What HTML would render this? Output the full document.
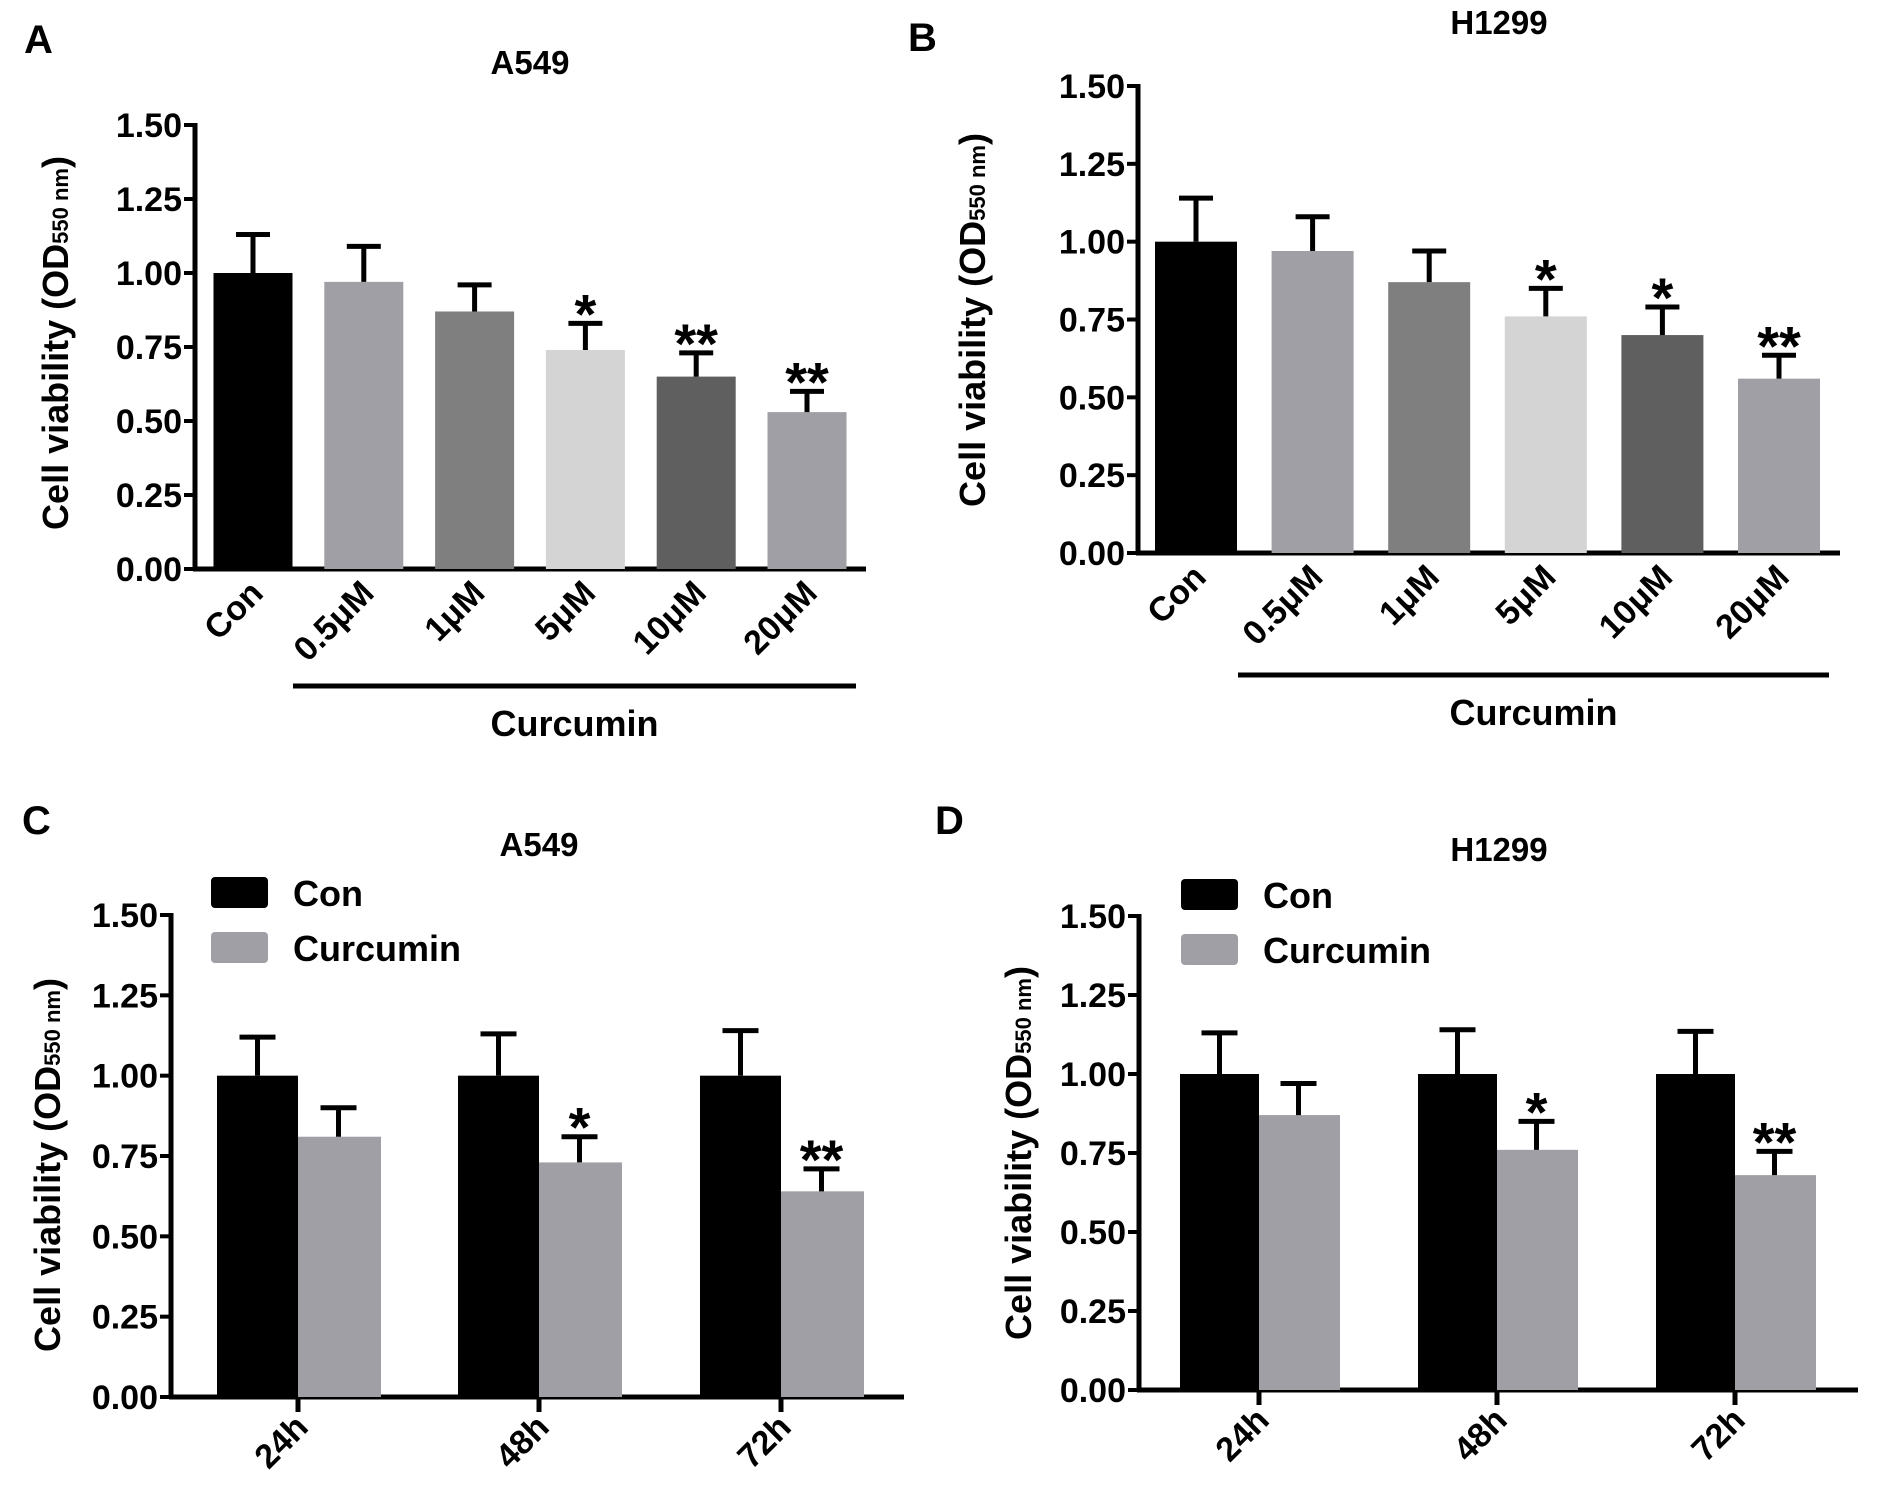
<!DOCTYPE html>
<html><head><meta charset="utf-8"><style>
html,body{margin:0;padding:0;background:#fff;}
svg{display:block;font-family:"Liberation Sans",Arial,sans-serif;font-weight:bold;}
</style></head><body>
<svg id="fig" width="1878" height="1496" viewBox="0 0 1878 1496" xmlns="http://www.w3.org/2000/svg">
<rect x="0" y="0" width="1878" height="1496" fill="#ffffff"/>
</svg>
<script>
// ---- data ----
const doseCategories = ["Con","0.5μM","1μM","5μM","10μM","20μM"];
const doseColors = ["#000000","#9f9fa5","#7f7f7f","#d4d4d4","#5f5f5f","#9f9fa5"];
const aValues = [1.00,0.97,0.87,0.74,0.65,0.53];
const aErrors = [1.13,1.09,0.96,0.83,0.73,0.60];
const aStars = ["","","","*","**","**"];
const bValues = [1.00,0.97,0.87,0.76,0.70,0.56];
const bErrors = [1.14,1.08,0.97,0.85,0.79,0.635];
const bStars = ["","","","*","*","**"];
const timeCategories = ["24h","48h","72h"];
const cConValues = [1.00,1.00,1.00];
const cConErrors = [1.12,1.13,1.14];
const cCurValues = [0.81,0.73,0.64];
const cCurErrors = [0.90,0.81,0.71];
const cStars = ["","*","**"];
const dConValues = [1.00,1.00,1.00];
const dConErrors = [1.13,1.14,1.135];
const dCurValues = [0.87,0.76,0.68];
const dCurErrors = [0.97,0.85,0.755];
const dStars = ["","*","**"];
const yTicks = [0,0.25,0.5,0.75,1.0,1.25,1.5];
const yTickLabels = ["0.00","0.25","0.50","0.75","1.00","1.25","1.50"];

const NS="http://www.w3.org/2000/svg";
const svg=document.getElementById('fig');
function mk(tag,attrs,parent,text){
  const e=document.createElementNS(NS,tag);
  for(const k in attrs) e.setAttribute(k,attrs[k]);
  if(text!==undefined) e.textContent=text;
  (parent||svg).appendChild(e);
  return e;
}

function axes(g,cfg){
  const y=v=>cfg.y0-(v/1.5)*(cfg.y0-cfg.y15);
  const yl=mk('line',{x1:cfg.ax,y1:cfg.y15-2,x2:cfg.ax,y2:cfg.y0+2,stroke:'#000','stroke-width':5},g);
  
  
  const xl=mk('line',{x1:cfg.ax-2,y1:cfg.y0,x2:cfg.xend,y2:cfg.y0,stroke:'#000','stroke-width':5},g);
  
  
  yTicks.forEach((t,i)=>{
    const tk=mk('line',{x1:cfg.ax-11,y1:y(t),x2:cfg.ax,y2:y(t),stroke:'#000','stroke-width':4},g);
    
    
    const tl=mk('text',{x:cfg.ax-13,y:y(t)+12,'text-anchor':'end','font-size':34},g,yTickLabels[i]);
    
    
  });
  const yt=mk('text',{transform:`translate(${cfg.ytx},${cfg.yty}) rotate(-90)`,'text-anchor':'middle','font-size':36},g);
  
  
  mk('tspan',{},yt,'Cell viability (OD');
  mk('tspan',{'font-size':22},yt,'550 nm');
  mk('tspan',{},yt,')');
  const ti=mk('text',{x:cfg.tx,y:cfg.ty,'text-anchor':'middle','font-size':33},g,cfg.title);
  
  
  const pl=mk('text',{x:cfg.lx,y:cfg.ly,'font-size':40},g,cfg.letter);
  
  
  return y;
}

function errBar(g,x,yTop,yErr,cap){
  const l=mk('path',{d:`M${x},${yTop} V${yErr} M${x-cap/2},${yErr} H${x+cap/2}`,stroke:'#000','stroke-width':5,fill:'none'},g);
  
  
}
function star(g,x,yErr,s){
  if(!s) return;
  const t=mk('text',{x:x,y:yErr+10,'text-anchor':'middle','font-size':56},g,s);
  
  
}

function dosePanel(cfg,values,errors,stars){
  const g=mk('g',{});
  
  
  const y=axes(g,cfg);
  const xc=i=>cfg.x0+i*cfg.pitch;
  doseCategories.forEach((c,i)=>{
    const b=mk('rect',{x:xc(i)-cfg.bw/2,y:y(values[i]),width:cfg.bw,height:cfg.y0-y(values[i]),fill:doseColors[i]},g);
    
    
    errBar(g,xc(i),y(values[i]),y(errors[i]),34);
    star(g,xc(i),y(errors[i]),stars[i]);
    const lab=mk('text',{transform:`translate(${xc(i)+12},${cfg.y0+26}) rotate(-45)`,'text-anchor':'end','font-size':34},g,c);
    
    
  });
  const cl=mk('line',{x1:cfg.cx1,y1:cfg.cy,x2:cfg.cx2,y2:cfg.cy,stroke:'#000','stroke-width':5},g);
  
  
  const ct=mk('text',{x:(cfg.cx1+cfg.cx2)/2,y:cfg.cy+50,'text-anchor':'middle','font-size':36},g,'Curcumin');
  
  
}

function timePanel(cfg,conV,conE,curV,curE,stars){
  const g=mk('g',{});
  
  
  const y=axes(g,cfg);
  timeCategories.forEach((c,i)=>{
    const x=cfg.centers[i];
    const b1=mk('rect',{x:x-cfg.bw,y:y(conV[i]),width:cfg.bw,height:cfg.y0-y(conV[i]),fill:'#000'},g);
    
    
    const b2=mk('rect',{x:x,y:y(curV[i]),width:cfg.bw+2,height:cfg.y0-y(curV[i]),fill:'#9f9fa5'},g);
    
    
    errBar(g,x-cfg.bw/2,y(conV[i]),y(conE[i]),36);
    errBar(g,x+cfg.bw/2,y(curV[i]),y(curE[i]),36);
    star(g,x+cfg.bw/2,y(curE[i]),stars[i]);
    const tk=mk('line',{x1:x,y1:cfg.y0,x2:x,y2:cfg.y0+15,stroke:'#000','stroke-width':5},g);
    
    
    const lab=mk('text',{transform:`translate(${x+12},${cfg.y0+32}) rotate(-45)`,'text-anchor':'end','font-size':34},g,c);
    
    
  });
  const lg=mk('g',{},g);
  
  
  const e1=mk('rect',{x:cfg.lgx,y:cfg.lgy,width:57,height:31,rx:4,fill:'#000'},lg);
  
  
  const t1=mk('text',{x:cfg.lgx+82,y:cfg.lgy+29,'font-size':36},lg,'Con');
  
  
  const e2=mk('rect',{x:cfg.lgx,y:cfg.lgy+55,width:57,height:31,rx:4,fill:'#9f9fa5'},lg);
  
  
  const t2=mk('text',{x:cfg.lgx+82,y:cfg.lgy+84,'font-size':36},lg,'Curcumin');
  
  
}

dosePanel({name:'panel-a',ax:195,y0:569,y15:125,xend:866,x0:253,pitch:110.8,bw:79,
  ytx:68,yty:343,tx:530,ty:74,title:'A549',lx:24,ly:53,letter:'A',cx1:293,cx2:856,cy:686},aValues,aErrors,aStars);
dosePanel({name:'panel-b',ax:1138,y0:553,y15:86,xend:1840,x0:1196,pitch:116.6,bw:82,
  ytx:985,yty:320,tx:1499,ty:34,title:'H1299',lx:908,ly:51,letter:'B',cx1:1238,cx2:1829,cy:675},bValues,bErrors,bStars);
timePanel({name:'panel-c',ax:171,y0:1397,y15:915,xend:904,centers:[298,539,781],bw:81,
  ytx:60,yty:1165,tx:539,ty:856,title:'A549',lx:22,ly:834,letter:'C',lgx:211,lgy:877},cConValues,cConErrors,cCurValues,cCurErrors,cStars);
timePanel({name:'panel-d',ax:1139,y0:1390,y15:916,xend:1858,centers:[1259,1497,1735],bw:79,
  ytx:1031,yty:1153,tx:1499,ty:861,title:'H1299',lx:935,ly:834,letter:'D',lgx:1181,lgy:879},dConValues,dConErrors,dCurValues,dCurErrors,dStars);
</script>
</body></html>
